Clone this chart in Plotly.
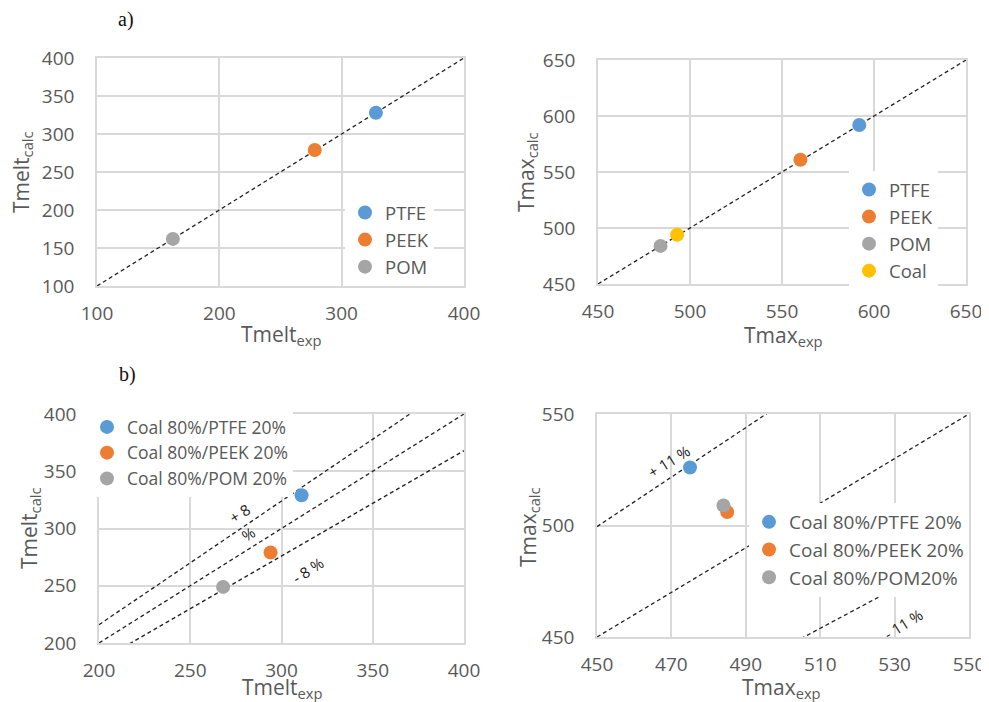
import plotly.graph_objects as go

# ---------------- data ----------------
a1_names = ["PTFE", "PEEK", "POM"]
a1_exp = [328, 278, 162]
a1_calc = [328, 279, 162]

a2_names = ["PTFE", "PEEK", "POM", "Coal"]
a2_exp = [592, 560, 484, 493]
a2_calc = [592, 561, 484, 494]

b1_names = ["Coal 80%/PTFE 20%", "Coal 80%/PEEK 20%", "Coal 80%/POM 20%"]
b1_exp = [311, 294, 268]
b1_calc = [329, 279, 249]

b2_names = ["Coal 80%/PTFE 20%", "Coal 80%/PEEK 20%", "Coal 80%/POM20%"]
b2_exp = [475, 485, 484]
b2_calc = [526, 506, 509]

a1_ratios = [1.0]
a2_ratios = [1.0]
b1_ratios = [1.08, 1.0, 0.92]
b2_ratios = [1.11, 1.0, 0.89]

a1_range = [100, 400]
a2_range = [450, 650]
b1_range = [200, 400]
b2_range = [450, 550]

colors = ["#5b9bd5", "#ed7d31", "#a5a5a5", "#ffc000"]

# page has an 8px body margin: the figure is placed at (8, 8)
OFF = 8
W, H = 989 - OFF, 702 - OFF
FONT = "Open Sans"
GREY = "#595959"
GRID = "#d9d9d9"


def px(x):
    return (x - OFF) / W


def py(y):
    return 1 - (y - OFF) / H


fig = go.Figure()

panels = [
    (a1_names, a1_exp, a1_calc, a1_ratios, a1_range, "", "legend"),
    (a2_names, a2_exp, a2_calc, a2_ratios, a2_range, "2", "legend2"),
    (b1_names, b1_exp, b1_calc, b1_ratios, b1_range, "3", "legend3"),
    (b2_names, b2_exp, b2_calc, b2_ratios, b2_range, "4", "legend4"),
]

for names, xs, ys, ratios, rng, sfx, leg in panels:
    for r in ratios:
        fig.add_trace(go.Scatter(
            x=[rng[0], rng[1]], y=[r * rng[0], r * rng[1]],
            mode="lines", line=dict(color="#222222", width=1.3, dash="4px,3px"),
            showlegend=False, hoverinfo="skip",
            xaxis="x" + sfx, yaxis="y" + sfx,
        ))
    for i, n in enumerate(names):
        fig.add_trace(go.Scatter(
            x=[xs[i]], y=[ys[i]], mode="markers", name=n,
            marker=dict(color=colors[i], size=14, line=dict(width=0)),
            xaxis="x" + sfx, yaxis="y" + sfx, legend=leg, legendgroup=leg + n,
        ))

boxes = {
    "": (97, 464, 58, 286, a1_range, 100, 50),
    "2": (598, 966, 60, 284, a2_range, 50, 50),
    "3": (99, 464, 414, 643, b1_range, 50, 50),
    "4": (597, 969, 414, 637, b2_range, 20, 50),
}

layout = dict(
    template="none",
    width=W, height=H, margin=dict(l=0, r=0, t=0, b=0, autoexpand=False),
    paper_bgcolor="white", plot_bgcolor="white",
    font=dict(family=FONT, color=GREY, size=19),
)

for sfx, (x0, x1, y0, y1, rng, dx, dy) in boxes.items():
    common = dict(
        showgrid=True, gridcolor=GRID, gridwidth=1.5,
        showline=True, linecolor=GRID, linewidth=1.5, mirror=True,
        zeroline=False, ticks="", fixedrange=True, automargin=False,
        tickfont=dict(family=FONT, size=19, color=GREY),
    )
    layout["xaxis" + sfx] = dict(
        common, domain=[px(x0), px(x1)], range=rng, dtick=dx, tick0=rng[0],
        anchor="y" + sfx, ticklabelstandoff=9,
    )
    layout["yaxis" + sfx] = dict(
        common, domain=[py(y1), py(y0)], range=rng, dtick=dy, tick0=rng[0],
        anchor="x" + sfx, ticklabelstandoff=17,
    )

leg_common = dict(
    bgcolor="white", borderwidth=0, xanchor="left", yanchor="top",
    font=dict(family=FONT, size=18.5, color=GREY), tracegroupgap=0,
)
layout["legend"] = dict(leg_common, x=px(345), y=py(194))
layout["legend2"] = dict(leg_common, x=px(849), y=py(171))
layout["legend3"] = dict(leg_common, x=px(87), y=py(409),
                         font=dict(family=FONT, size=17.5, color=GREY))
layout["legend4"] = dict(leg_common, x=px(749), y=py(503),
                         font=dict(family=FONT, size=19, color=GREY))

fig.update_layout(**layout)

ann = []


def title(text, x, y, angle=0):
    ann.append(dict(
        text=text, x=px(x), y=py(y), xref="paper", yref="paper",
        showarrow=False, textangle=angle, xanchor="center", yanchor="middle",
        font=dict(family=FONT, size=21, color=GREY),
    ))


title("Tmelt<sub>exp</sub>", 281, 335)
title("Tmelt<sub>calc</sub>", 22, 172, -90)
title("Tmax<sub>exp</sub>", 783, 336)
title("Tmax<sub>calc</sub>", 527, 172, -90)
title("Tmelt<sub>exp</sub>", 282, 688)
title("Tmelt<sub>calc</sub>", 30, 528, -90)
title("Tmax<sub>exp</sub>", 781, 688)
title("Tmax<sub>calc</sub>", 529, 527, -90)

for t, x, y in [("a)", 126, 20), ("b)", 127, 375)]:
    ann.append(dict(
        text=t, x=px(x), y=py(y), xref="paper", yref="paper", showarrow=False,
        xanchor="center", yanchor="middle",
        font=dict(family="Liberation Serif", size=20, color="#111111"),
    ))

pct_labels = [
    ("+ 8", 277.2, 313.6, "x3", "y3", -33),
    ("%", 281.5, 295.2, "x3", "y3", -33),
    ("- 8 %", 314.5, 263.8, "x3", "y3", -33),
    ("+ 11 %", 469.4, 528.8, "x4", "y4", -32),
    ("- 11 %", 532.3, 456.0, "x4", "y4", -32),
]
for t, x, y, xr, yr, a in pct_labels:
    ann.append(dict(
        text=t, x=x, y=y, xref=xr, yref=yr, showarrow=False, textangle=a,
        xanchor="center", yanchor="middle",
        font=dict(family=FONT, size=15, color="#1a1a1a"),
    ))

fig.update_layout(annotations=ann)

fig.write_html("out.html")
